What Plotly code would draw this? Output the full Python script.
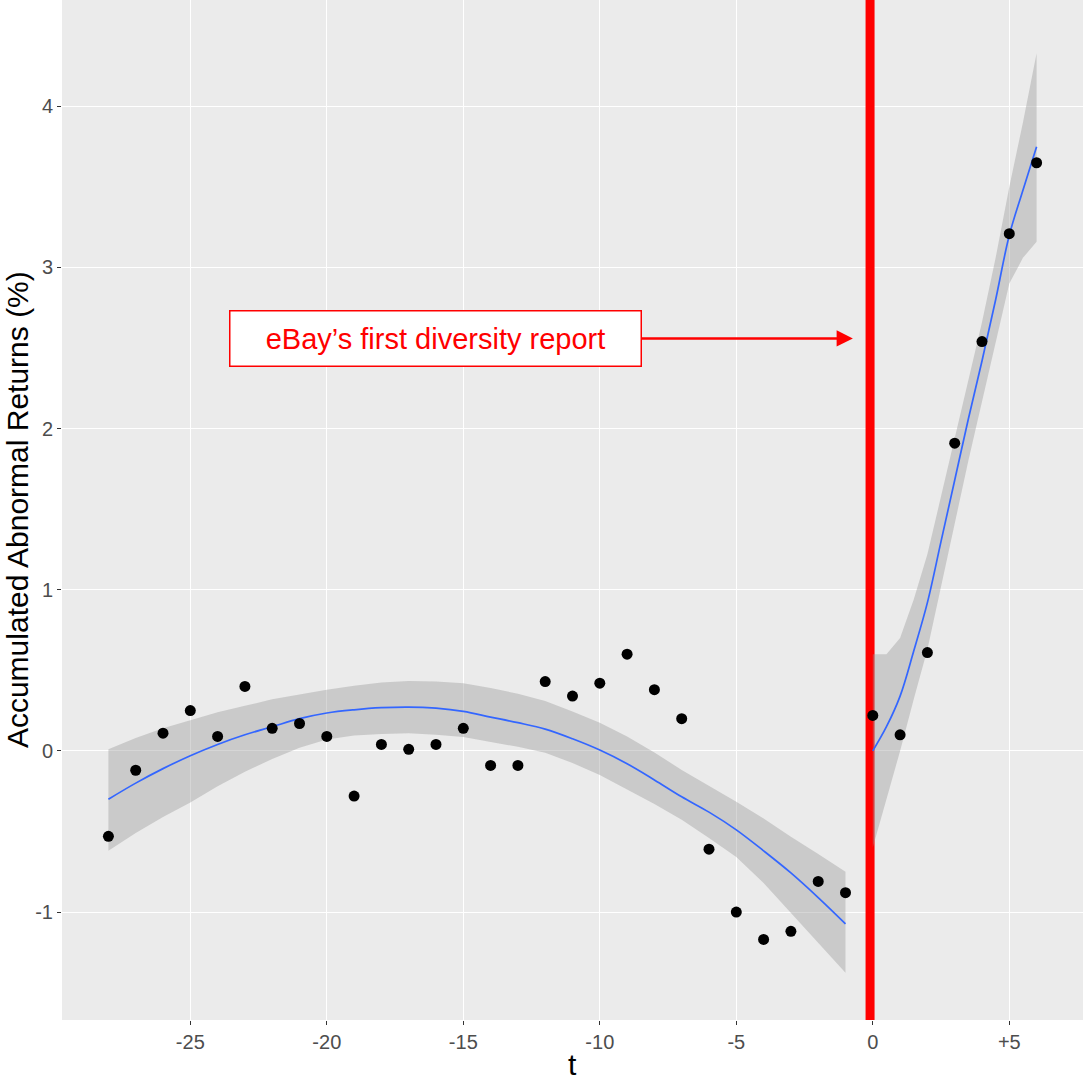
import plotly.graph_objects as go

# ---- observed data ----
t_pts = list(range(-28, 7))
car_pts = [-0.53, -0.12, 0.11, 0.25, 0.09, 0.40, 0.14, 0.17, 0.09, -0.28,
           0.04, 0.01, 0.04, 0.14, -0.09, -0.09, 0.43, 0.34, 0.42, 0.60,
           0.38, 0.20, -0.61, -1.00, -1.17, -1.12, -0.81, -0.88,
           0.22, 0.10, 0.61, 1.91, 2.54, 3.21, 3.65]

# ---- smoother before the event ----
t_pre = [-28, -27, -26, -25, -24, -23, -22, -21, -20, -19, -18, -17, -16, -15,
         -14, -13, -12, -11, -10, -9, -8, -7, -6, -5, -4, -3, -2, -1]
fit_pre = [-0.30, -0.20, -0.11, -0.03, 0.04, 0.10, 0.15, 0.20, 0.235, 0.255,
           0.268, 0.272, 0.265, 0.245, 0.21, 0.175, 0.135, 0.075, 0.005, -0.08,
           -0.18, -0.285, -0.38, -0.49, -0.62, -0.757, -0.91, -1.073]
up_pre = [0.01, 0.08, 0.14, 0.19, 0.24, 0.28, 0.32, 0.35, 0.38, 0.405,
          0.425, 0.434, 0.43, 0.42, 0.39, 0.355, 0.31, 0.245, 0.174, 0.09,
          -0.01, -0.118, -0.215, -0.316, -0.42, -0.533, -0.64, -0.75]
lo_pre = [-0.62, -0.51, -0.41, -0.32, -0.22, -0.13, -0.05, 0.02, 0.07, 0.095,
          0.105, 0.11, 0.10, 0.087, 0.055, 0.025, -0.012, -0.075, -0.149, -0.24,
          -0.33, -0.428, -0.54, -0.658, -0.82, -1.005, -1.19, -1.377]

# ---- smoother after the event ----
t_post = [0, 0.5, 1, 1.5, 2, 2.5, 3, 3.5, 4, 4.5, 5, 5.5, 6]
fit_post = [0.0, 0.15, 0.34, 0.62, 0.92, 1.30, 1.68, 2.06, 2.42, 2.80, 3.20, 3.48, 3.75]
up_post = [0.60, 0.60, 0.70, 0.94, 1.22, 1.58, 1.95, 2.32, 2.66, 3.06, 3.50, 3.90, 4.33]
lo_post = [-0.60, -0.30, 0.00, 0.32, 0.63, 1.02, 1.41, 1.80, 2.18, 2.54, 2.90, 3.06, 3.16]

event_x = -0.1
y_span = [-1.67, 4.66]
label = "eBay’s first diversity report"
x_ticks = [-25, -20, -15, -10, -5, 0, 5]
x_ticktext = ["-25", "-20", "-15", "-10", "-5", "0", "+5"]
y_ticks = [-1, 0, 1, 2, 3, 4]
y_ticktext = ["-1", "0", "1", "2", "3", "4"]

band_fill = "rgba(153,153,153,0.4)"
blue = "#3366FF"
font_fam = "Liberation Sans, Arial"

fig = go.Figure()
# event line (as a trace so that it sits above the grid but under the points)
fig.add_trace(go.Scatter(x=[event_x, event_x], y=y_span, mode="lines",
                         line=dict(color="red", width=9), hoverinfo="skip",
                         showlegend=False, cliponaxis=True))
for tt, up, lo in [(t_pre, up_pre, lo_pre), (t_post, up_post, lo_post)]:
    fig.add_trace(go.Scatter(x=tt + tt[::-1], y=up + lo[::-1], fill="toself",
                             fillcolor=band_fill, line=dict(width=0),
                             mode="lines", hoverinfo="skip", showlegend=False))
for tt, ff in [(t_pre, fit_pre), (t_post, fit_post)]:
    fig.add_trace(go.Scatter(x=tt, y=ff, mode="lines",
                             line=dict(color=blue, width=1.7, shape="spline"),
                             showlegend=False))
fig.add_trace(go.Scatter(x=t_pts, y=car_pts, mode="markers",
                         marker=dict(color="black", size=11), showlegend=False))

fig.add_annotation(x=-0.73, y=2.56, xref="x", yref="y",
                   ax=-16.02, ay=2.56, axref="x", ayref="y",
                   text=label, showarrow=True, arrowhead=2, arrowsize=1.3,
                   arrowwidth=2.5, arrowcolor="red",
                   font=dict(family=font_fam, size=29, color="red"),
                   bgcolor="white", bordercolor="red", borderwidth=1.5,
                   borderpad=0, width=410, height=54)

# axis titles as annotations for exact placement
fig.add_annotation(text="t", xref="paper", yref="paper", x=0.5, y=-0.044,
                   xanchor="center", yanchor="middle", showarrow=False,
                   font=dict(family=font_fam, size=30, color="black"))
fig.add_annotation(text="Accumulated Abnormal Returns (%)", xref="paper", yref="paper",
                   x=-0.044, y=0.5, xanchor="center", yanchor="middle",
                   textangle=-90, showarrow=False,
                   font=dict(family=font_fam, size=30, color="black"))

axis_common = dict(showgrid=True, gridcolor="white", gridwidth=1.2, zeroline=False,
                   ticks="outside", ticklen=4, tickcolor="#333333", tickwidth=1,
                   tickfont=dict(family=font_fam, size=20, color="#4D4D4D"),
                   showline=False, automargin=False)

fig.update_layout(
    width=1083, height=1080,
    paper_bgcolor="white", plot_bgcolor="#EBEBEB",
    margin=dict(l=62, r=0, t=0, b=60, autoexpand=False),
    xaxis=dict(range=[-29.7, 7.7], tickvals=x_ticks, ticktext=x_ticktext, **axis_common),
    yaxis=dict(range=y_span, tickvals=y_ticks, ticktext=y_ticktext, **axis_common),
)

fig.write_html("out.html", config={"displayModeBar": False},
               post_script="document.body.style.margin='0';document.body.style.overflow='hidden';")
